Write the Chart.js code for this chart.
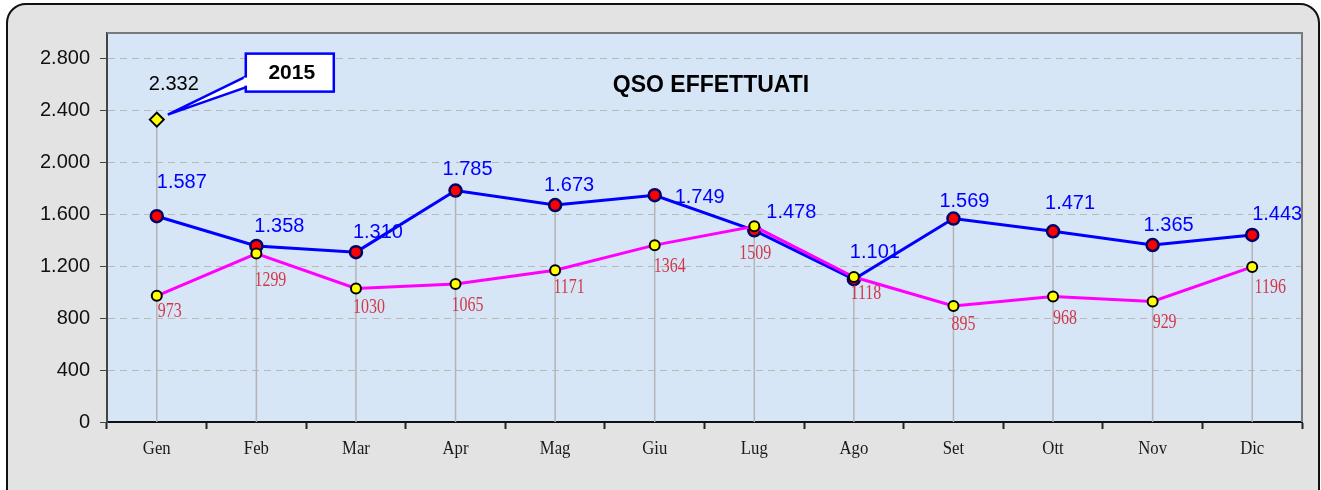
<!DOCTYPE html>
<html>
<head>
<meta charset="utf-8">
<script src="https://cdn.jsdelivr.net/npm/chart.js@4"></script>
<style>
  html, body { margin: 0; padding: 0; background: #fff; overflow: hidden; }
  .frame {
    position: absolute; left: 6px; top: 3px; width: 1310px; height: 520px;
    border: 2px solid #111; border-radius: 20px; background: #e3e3e3;
  }
  #qso { position: absolute; left: 0; top: 0; }
</style>
</head>
<body>
<div class="frame"></div>
<canvas id="qso" width="1321" height="490"></canvas>
<script>
const months = ["Gen", "Feb", "Mar", "Apr", "Mag", "Giu", "Lug", "Ago", "Set", "Ott", "Nov", "Dic"];
const qso2015 = [2332, null, null, null, null, null, null, null, null, null, null, null];
const qsoBlue = [1587, 1358, 1310, 1785, 1673, 1749, 1478, 1101, 1569, 1471, 1365, 1443];
const qsoMagenta = [973, 1299, 1030, 1065, 1171, 1364, 1509, 1118, 895, 968, 929, 1196];
const yTicks = [0, 400, 800, 1200, 1600, 2000, 2400, 2800];
const chartTitle = "QSO EFFETTUATI";
const calloutText = "2015";

// spostamento delle etichette rispetto al punto (come spostate a mano nell'originale)
const blueNudge = [[25, -34], [23, -19], [22, -20], [12, -21], [14, -20], [45, 2],
  [37, -18], [21, -27], [11, -17], [17, -28], [16, -20], [25, -20]];
const magentaNudge = [[13, 16], [14, 27], [13, 19], [12, 22], [14, 17], [15, 21],
  [1, 27], [12, 16], [10, 19], [12, 22], [12, 21], [18, 21]];

const canvas = document.getElementById("qso");

// formato italiano: 2.800
const fmt = (n) => {
  if (n < 1000) return String(n);
  return Math.floor(n / 1000) + "." + String(n % 1000).padStart(3, "0");
};

const SERIF = '"Liberation Serif", "DejaVu Serif", serif';
const SANS = '"Liberation Sans", Arial, sans-serif';

const narrowText = (ctx, text, x, y, sx) => {
  ctx.save();
  ctx.translate(x, y);
  ctx.scale(sx, 1);
  ctx.fillText(text, 0, 0);
  ctx.restore();
};

// fondo area del grafico, bordo e linee verticali dai punti
const plotArea = {
  id: "plotArea",
  beforeDraw(chart) {
    const { ctx, chartArea: a } = chart;
    ctx.save();
    ctx.fillStyle = "#d7e6f6";
    ctx.fillRect(a.left, a.top, a.right - a.left, a.bottom - a.top);
    ctx.restore();
  },
  beforeDatasetsDraw(chart) {
    const { ctx, chartArea: a, scales } = chart;
    ctx.save();
    ctx.strokeStyle = "#b4b4b4";
    ctx.lineWidth = 1.5;
    months.forEach((m, i) => {
      const top = Math.max(qso2015[i] || 0, qsoBlue[i], qsoMagenta[i]);
      const x = scales.x.getPixelForValue(i);
      ctx.beginPath();
      ctx.moveTo(x, scales.y.getPixelForValue(top));
      ctx.lineTo(x, a.bottom);
      ctx.stroke();
    });
    // bordo superiore e destro
    ctx.strokeStyle = "#7a7a7a";
    ctx.lineWidth = 2;
    ctx.beginPath();
    ctx.moveTo(a.left, a.top);
    ctx.lineTo(a.right, a.top);
    ctx.lineTo(a.right, a.bottom);
    ctx.stroke();
    ctx.restore();
  },
};

// etichette dei valori, mesi, titolo e richiamo "2015"
const labels = {
  id: "labels",
  afterDatasetsDraw(chart) {
    const { ctx, chartArea: a, scales } = chart;
    ctx.save();
    ctx.textBaseline = "middle";
    ctx.textAlign = "center";

    ctx.font = "19px " + SERIF;
    ctx.fillStyle = "#1a1a1a";
    months.forEach((m, i) => narrowText(ctx, m, scales.x.getPixelForValue(i), a.bottom + 27, 0.88));

    const blue = chart.getDatasetMeta(2).data;
    ctx.font = "20px " + SANS;
    ctx.fillStyle = "#0000ff";
    blue.forEach((p, i) => ctx.fillText(fmt(qsoBlue[i]), p.x + blueNudge[i][0], p.y + blueNudge[i][1]));

    const mag = chart.getDatasetMeta(1).data;
    ctx.font = "21px " + SERIF;
    ctx.fillStyle = "#d0384a";
    mag.forEach((p, i) => narrowText(ctx, String(qsoMagenta[i]), p.x + magentaNudge[i][0], p.y + magentaNudge[i][1], 0.76));

    const d = chart.getDatasetMeta(0).data[0];
    ctx.font = "20px " + SANS;
    ctx.fillStyle = "#000";
    ctx.fillText(fmt(qso2015[0]), d.x + 17, d.y - 35);

    // richiamo
    const bx = d.x + 89, by = d.y - 66, bw = 88, bh = 38;
    ctx.beginPath();
    ctx.moveTo(bx + 2, by + 22);
    ctx.lineTo(d.x + 11, d.y - 5);
    ctx.lineTo(bx + 2, by + 33);
    ctx.closePath();
    ctx.fillStyle = "#fff";
    ctx.fill();
    ctx.strokeStyle = "#0000ff";
    ctx.lineWidth = 2.5;
    ctx.stroke();
    ctx.fillRect(bx, by, bw, bh);
    ctx.strokeRect(bx, by, bw, bh);
    ctx.fillStyle = "#fff";
    ctx.fillRect(bx - 2, by + 24, 5, 8);
    ctx.fillStyle = "#000";
    ctx.font = "bold 21px " + SANS;
    ctx.fillText(calloutText, bx + bw / 2 + 2, by + bh / 2 + 1);

    ctx.font = "bold 23px " + SANS;
    ctx.fillText(chartTitle, 711, a.top + 53);
    ctx.restore();
  },
};

new Chart(canvas, {
  type: "line",
  data: {
    labels: months,
    datasets: [
      {
        data: qso2015,
        showLine: false,
        pointStyle: "rectRot",
        pointRadius: 7,
        pointBackgroundColor: "#ffff00",
        pointBorderColor: "#000",
        pointBorderWidth: 2,
      },
      {
        data: qsoMagenta,
        borderColor: "#ff00ff",
        borderWidth: 3,
        tension: 0,
        pointRadius: 5,
        pointBackgroundColor: "#ffff00",
        pointBorderColor: "#000",
        pointBorderWidth: 2,
      },
      {
        data: qsoBlue,
        borderColor: "#0000ff",
        borderWidth: 3,
        tension: 0,
        pointRadius: 6,
        pointBackgroundColor: "#ff0000",
        pointBorderColor: "#000066",
        pointBorderWidth: 2.5,
      },
    ],
  },
  options: {
    responsive: false,
    animation: false,
    layout: { padding: { left: 0, top: 33, right: 19, bottom: 0 } },
    plugins: { legend: { display: false }, tooltip: { enabled: false } },
    scales: {
      x: {
        offset: true,
        afterFit: (s) => { s.height = 68; },
        grid: { offset: true, drawOnChartArea: false, tickLength: 7, tickColor: "#222", tickWidth: 2 },
        border: { color: "#111", width: 2 },
        ticks: { color: "rgba(0,0,0,0)", font: { family: SERIF, size: 14 }, padding: 12 },
      },
      y: {
        min: 0,
        max: 3000,
        afterFit: (s) => { s.width = 107; },
        afterBuildTicks: (s) => { s.ticks = yTicks.map((v) => ({ value: v })); },
        grid: { color: "#b8b8b8", tickColor: "#444", tickLength: 7, tickBorderDash: [], lineWidth: 1 },
        border: { color: "#444", width: 2, dash: [7, 5] },
        ticks: { color: "#111", font: { family: SANS, size: 20 }, padding: 10, callback: (v) => fmt(v) },
      },
    },
  },
  plugins: [plotArea, labels],
});
</script>
</body>
</html>
